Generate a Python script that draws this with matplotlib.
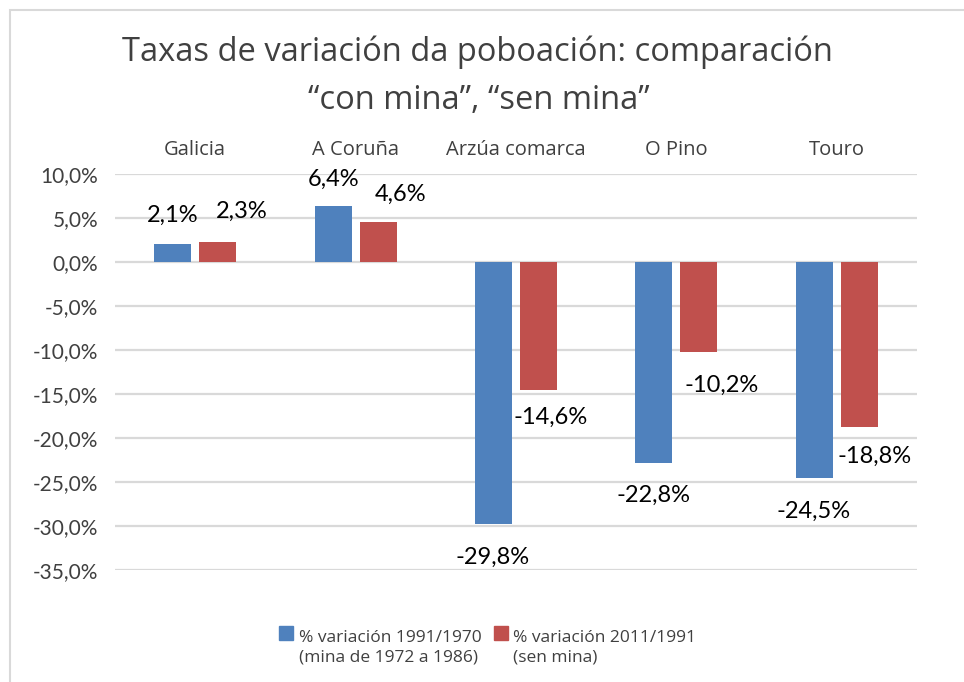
import numpy as np
import matplotlib as mpl

mpl.use('Agg')

from matplotlib import pyplot as plt
from matplotlib.patches import Rectangle
from matplotlib.ticker import FuncFormatter

categories = ['Galicia', 'A Coruña', 'Arzúa comarca', 'O Pino', 'Touro']
var_1991_1970 = [2.1, 6.4, -29.8, -22.8, -24.5]
var_2011_1991 = [2.3, 4.6, -14.6, -10.2, -18.8]
series_names = ['% variación 1991/1970\n(mina de 1972 a 1986)',
                '% variación 2011/1991\n(sen mina)']
yticks = [10, 5, 0, -5, -10, -15, -20, -25, -30, -35]

blue = '#4F81BD'
red = '#C0504D'
grey_txt = '#404040'
grid_col = '#D9D9D9'

# label offsets in pixels (dx, dy of baseline, screen-down positive), hand placed as in the original
off_blue = [(0, -22), (0, -20), (-1, 39.5), (0, 39), (-1, 40)]
off_red = [(24, -23.5), (22.5, -20.5), (12.5, 33.5), (22.5, 40.5), (15, 35)]


def pct(v):
    return ('%.1f%%' % v).replace('.', ',')


W, H = 964, 682
f = plt.figure(figsize=(W / 100, H / 100), dpi=100)
ax = f.add_axes([115 / W, 1 - 570 / H, 802 / W, 396 / H])

x = np.arange(len(categories))
bw = 0.23
b1 = ax.bar(x - 0.14, var_1991_1970, bw, color=blue, zorder=3)
b2 = ax.bar(x + 0.14, var_2011_1991, bw, color=red, zorder=3)

for bars, vals, offs in [(b1, var_1991_1970, off_blue), (b2, var_2011_1991, off_red)]:
    for b, v, (dx, dy) in zip(bars, vals, offs):
        ax.annotate(pct(v), (b.get_x() + b.get_width() / 2, v),
                    xytext=(dx, -dy), textcoords='offset pixels',
                    ha='center', va='baseline', fontsize=17,
                    family='Lato', color='black', zorder=4)

ax.set_xlim(-0.5, len(categories) - 0.5)
ax.set_ylim(-35, 10)
ax.set_yticks(yticks)
ax.yaxis.set_major_formatter(FuncFormatter(lambda v, p: pct(v)))
ax.tick_params(axis='y', length=0, pad=12, labelsize=15, labelcolor=grey_txt)
for t in ax.get_yticklabels():
    t.set_family('Lato')

ax.xaxis.tick_top()
ax.set_xticks(x)
ax.set_xticklabels(categories, family='Open Sans', fontsize=14.5, color=grey_txt)
ax.tick_params(axis='x', length=0, pad=10)

ax.grid(axis='y', color=grid_col, lw=1.6, zorder=0)
ax.set_axisbelow(True)
for s in ax.spines.values():
    s.set_visible(False)

# title
f.text(477 / W, 1 - 61 / H, 'Taxas de variación da poboación: comparación',
       ha='center', va='baseline', fontsize=23.5, family='Open Sans', color=grey_txt)
f.text(479 / W, 1 - 109 / H, '\u201ccon mina\u201d, \u201csen mina\u201d',
       ha='center', va='baseline', fontsize=23.5, family='Open Sans', color=grey_txt)

# legend, squares aligned with the first line
for (lx, tx), col, name in zip([(279, 299), (494, 513)], [blue, red], series_names):
    f.patches.append(Rectangle((lx / W, 1 - 640 / H), 14 / W, 14 / H,
                               transform=f.transFigure, color=col))
    f.text(tx / W, 1 - 661 / H, name, ha='left', va='baseline', fontsize=12.5,
           family='Open Sans', color=grey_txt, linespacing=1.25)

# chart border
f.patches.append(Rectangle((10 / W, -0.1), 1.1, 1.1 - 10 / H, transform=f.transFigure,
                           fill=False, ec=grid_col, lw=1.5))

f.savefig('out.png', dpi=100)
